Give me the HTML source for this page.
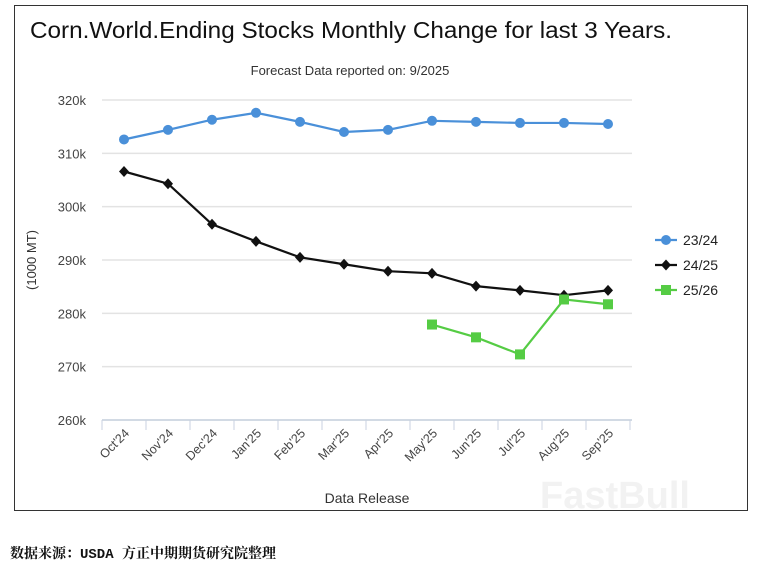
<!DOCTYPE html>
<html><head><meta charset="utf-8"><style>
body{margin:0;background:#fff;width:765px;height:568px;overflow:hidden;font-family:"Liberation Sans","Noto Sans CJK SC",sans-serif}
#frame{position:absolute;left:14px;top:5px;width:734px;height:506px;border:1.5px solid #333;box-sizing:border-box}
</style></head><body>
<div id="frame"></div>
<svg id="c" width="765" height="568" style="position:absolute;left:0;top:0"></svg>
<div style="position:absolute;left:10px;top:543px;font-size:14px;color:#111;font-weight:bold;font-family:'Liberation Mono','Noto Serif CJK SC',monospace">数据来源：USDA 方正中期期货研究院整理</div>
<script>
const categories=["Oct'24","Nov'24","Dec'24","Jan'25","Feb'25","Mar'25","Apr'25","May'25","Jun'25","Jul'25","Aug'25","Sep'25"];
const s2324=[312.6,314.4,316.3,317.6,315.9,314.0,314.4,316.1,315.9,315.7,315.7,315.5];
const s2425=[306.6,304.3,296.7,293.5,290.5,289.2,287.9,287.5,285.1,284.3,283.4,284.3];
const s2526=[null,null,null,null,null,null,null,277.9,275.5,272.3,282.6,281.7];
const yTicks=[260,270,280,290,300,310,320];
const NS="http://www.w3.org/2000/svg";
const svg=document.getElementById('c');
const x0=102,band=44,yTop=100,yBot=420,yMin=260,yMax=320;
const X=i=>x0+band*(i+0.5);
const Y=v=>yBot-(v-yMin)/(yMax-yMin)*(yBot-yTop);
function el(t,a,txt){const e=document.createElementNS(NS,t);for(const k in a)e.setAttribute(k,a[k]);if(txt!=null)e.textContent=txt;svg.appendChild(e);return e;}
let e;
e=el('text',{x:351,y:38,'text-anchor':'middle','font-size':23.5,fill:'#111',textLength:642,lengthAdjust:'spacingAndGlyphs'},'Corn.World.Ending Stocks Monthly Change for last 3 Years.');

e=el('text',{x:350,y:75,'text-anchor':'middle','font-size':13,fill:'#333'},'Forecast Data reported on: 9/2025');

yTicks.forEach(v=>{
 e=el('line',{x1:x0,x2:632,y1:Y(v),y2:Y(v),stroke:'#e3e3e3','stroke-width':1.5});
 
 e=el('text',{x:86,y:Y(v)+5,'text-anchor':'end','font-size':13,fill:'#444'},v+'k');
 
});
e=el('line',{x1:x0,x2:632,y1:yBot,y2:yBot,stroke:'#c8d2e0','stroke-width':1.5});

for(let i=0;i<=categories.length;i++){e=el('line',{x1:x0+band*i,x2:x0+band*i,y1:yBot,y2:yBot+10,stroke:'#c8d2e0'});
 }
categories.forEach((c,i)=>{
 const tx=X(i)+6,ty=yBot+14;
 e=el('text',{x:tx,y:ty,'text-anchor':'end','font-size':12.5,fill:'#444',transform:`rotate(-45 ${tx} ${ty})`},c);
 
});
e=el('text',{x:367,y:503,'text-anchor':'middle','font-size':14,fill:'#333'},'Data Release');

e=el('text',{x:36,y:260,'text-anchor':'middle','font-size':13,fill:'#333',transform:'rotate(-90 36 260)'},'(1000 MT)');

function series(data,color,shape,name){
 let d='';data.forEach((v,i)=>{if(v==null)return;d+=(d?'L':'M')+X(i)+' '+Y(v);});
 e=el('path',{d:d,fill:'none',stroke:color,'stroke-width':2.2});
 
 data.forEach((v,i)=>{if(v==null)return;marker(X(i),Y(v),color,shape);
  });
}
function marker(x,y,color,shape){
 if(shape==='c')e=el('circle',{cx:x,cy:y,r:5,fill:color});
 else if(shape==='d')e=el('path',{d:`M${x} ${y-5.5}L${x+5} ${y}L${x} ${y+5.5}L${x-5} ${y}Z`,fill:color});
 else e=el('rect',{x:x-5,y:y-5,width:10,height:10,fill:color});
}
series(s2324,'#4a90d9','c','series-23-24');
series(s2425,'#111','d','series-24-25');
series(s2526,'#55cc44','s','series-25-26');
[['23/24','#4a90d9','c',240],['24/25','#111','d',265],['25/26','#55cc44','s',290]].forEach(l=>{
 e=el('line',{x1:655,x2:677,y1:l[3],y2:l[3],stroke:l[1],'stroke-width':2.2});
 
 marker(666,l[3],l[1],l[2]);
 
 e=el('text',{x:683,y:l[3]+5,'font-size':14,fill:'#222'},l[0]);
 
});
e=el('text',{x:615,y:508,'text-anchor':'middle','font-size':38,'font-weight':'bold',fill:'#f2f2f2'},'FastBull');

</script>
</body></html>
